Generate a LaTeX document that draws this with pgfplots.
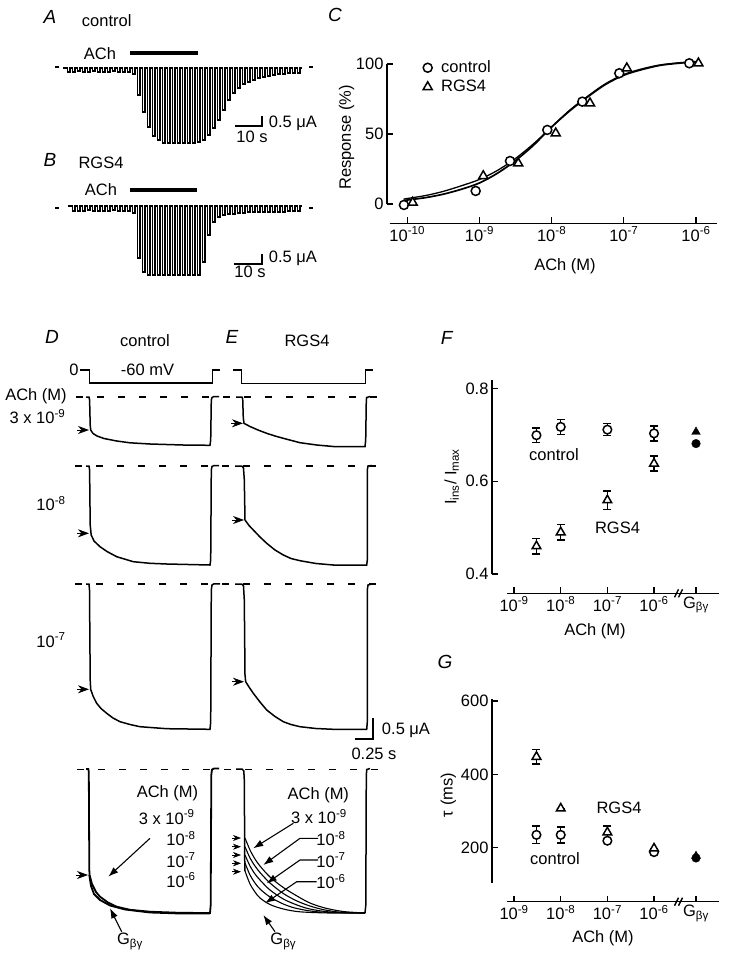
\documentclass[border=0pt]{standalone}
\usepackage{pgfplots}
\pgfplotsset{compat=1.18}
\usepackage{fontspec}
\setmainfont{Liberation Sans}
\usetikzlibrary{arrows.meta}
\newcommand{\fs}{\fontsize{16.5}{19}\selectfont}
\begin{document}
\begin{tikzpicture}[
  lab/.style={font=\fs, inner sep=0pt},
  pl/.style={font=\fontsize{19}{22}\selectfont\itshape, inner sep=0pt},
  hd/.style={-{Stealth[length=11pt,width=8pt,inset=3.5pt]}, line width=0.8pt},
  hds/.style={-{Stealth[length=8pt,width=6pt,inset=2.5pt]}, line width=0.7pt},
  ar/.style={-{Latex[length=10pt,width=7pt]}, line width=1.1pt},
]
\begin{axis}[name=canvas, at={(0,0)}, anchor=south west, x=1pt, y=1pt,
  xmin=0, xmax=730, ymin=0, ymax=960, y dir=reverse, hide axis, clip=false, scale only axis]
\coordinate (bbA) at (axis cs:0,960);
\coordinate (bbB) at (axis cs:730,0);
\coordinate (Corig) at (axis cs:387,223.3);
\coordinate (Forig) at (axis cs:492,593.3);
\coordinate (Gorig) at (axis cs:492,901.7);
% ---------- panel A ----------
\node[pl] at (axis cs:50,17) {A};
\node[lab] at (axis cs:106.7,20.7) {control};
\node[lab] at (axis cs:100,53.3) {ACh};
\addplot[line width=3.2pt] coordinates {(130,53)(198,53)};
\addplot[line width=1.5pt] coordinates {(55,67)(59,67)};
\addplot[line width=1.5pt] coordinates {(309,67)(313,67)};
\addplot[const plot, line width=1.2pt] coordinates {(63,68)(65,68)(67.5,72)(70,68)(72.5,72)(75,68)(77.5,71)(80,68)(82.5,72)(85,68)(87.5,72)(90,68)(92.5,71)(95,68)(97.5,72)(100,68)(102.5,72)(105,68)(107.5,72)(110,68)(112.5,71)(115,68)(117.5,72)(120,68)(122.5,72)(125,68)(127.5,72)(130,68)(132.5,74)(135,68)(137.5,95)(140,68)(142.5,112)(145,68)(147.5,127)(150,68)(152.5,136)(155,68)(157.5,140)(160,68)(162.5,143)(165,68)(167.5,143)(170,68)(172.5,143)(175,68)(177.5,143)(180,68)(182.5,143)(185,68)(187.5,143)(190,68)(192.5,143)(195,68)(197.5,142)(200,68)(202.5,140)(205,68)(207.5,135)(210,68)(212.5,128)(215,68)(217.5,120)(220,68)(222.5,110)(225,68)(227.5,100)(230,68)(232.5,93)(235,68)(237.5,88)(240,68)(242.5,84)(245,68)(247.5,82)(250,68)(252.5,80)(255,68)(257.5,78)(260,68)(262.5,77)(265,68)(267.5,76)(270,68)(272.5,75)(275,68)(277.5,74)(280,68)(282.5,74)(285,68)(287.5,73)(290,68)(292.5,73)(295,68)(297.5,73)(300,68)(302,68)};
\addplot[line width=1.8pt] coordinates {(235,126)(261.7,126)(261.7,116)};
\node[lab] at (axis cs:293,123.3) {0.5 μA};
\node[lab] at (axis cs:252,136.7) {10 s};
% ---------- panel B ----------
\node[pl] at (axis cs:50,160) {B};
\node[lab] at (axis cs:101,163.3) {RGS4};
\node[lab] at (axis cs:101,190) {ACh};
\addplot[line width=3.2pt] coordinates {(130,190)(197,190)};
\addplot[line width=1.5pt] coordinates {(55,208)(59,208)};
\addplot[line width=1.5pt] coordinates {(309,208)(313,208)};
\addplot[const plot, line width=1.2pt] coordinates {(68,206)(70,206)(72.5,211)(75,206)(77.5,211)(80,206)(82.5,211)(85,206)(87.5,210)(90,206)(92.5,211)(95,206)(97.5,211)(100,206)(102.5,211)(105,206)(107.5,211)(110,206)(112.5,210)(115,206)(117.5,211)(120,206)(122.5,211)(125,206)(127.5,211)(130,206)(132.5,213)(135,206)(137.5,258)(140,206)(142.5,272)(145,206)(147.5,275)(150,206)(152.5,275)(155,206)(157.5,275)(160,206)(162.5,275)(165,206)(167.5,275)(170,206)(172.5,275)(175,206)(177.5,275)(180,206)(182.5,275)(185,206)(187.5,275)(190,206)(192.5,275)(195,206)(197.5,275)(200,206)(202.5,262)(205,206)(207.5,235)(210,206)(212.5,222)(215,206)(217.5,217)(220,206)(222.5,215)(225,206)(227.5,214)(230,206)(232.5,214)(235,206)(237.5,213)(240,206)(242.5,213)(245,206)(247.5,212)(250,206)(252.5,212)(255,206)(257.5,212)(260,206)(262.5,212)(265,206)(267.5,212)(270,206)(272.5,212)(275,206)(277.5,212)(280,206)(282.5,212)(285,206)(287.5,211)(290,206)(292.5,211)(295,206)(297.5,211)(300,206)(302,206)};
\addplot[line width=1.8pt] coordinates {(234.3,264.3)(261.7,264.3)(261.7,254)};
\node[lab] at (axis cs:293,258.3) {0.5 μA};
\node[lab] at (axis cs:250,271.7) {10 s};
% ---------- panels C, F, G labels ----------
\node[pl] at (axis cs:335,15) {C};
\node[lab, rotate=90] at (axis cs:346.7,137.5) {Response (\%)};
\node[lab] at (axis cs:565,266.7) {ACh (M)};
\node[pl] at (axis cs:446.7,338.3) {F};
\node[lab, rotate=90] at (axis cs:451.7,476.7) {I\textsubscript{ins}/ I\textsubscript{max}};
\node[lab] at (axis cs:595,631) {ACh (M)};
\node[lab] at (axis cs:554,455) {control};
\node[lab] at (axis cs:617.5,528.3) {RGS4};
\node[pl] at (axis cs:445,661.7) {G};
\node[lab, rotate=90] at (axis cs:448.3,795) {τ (ms)};
\node[lab] at (axis cs:603,938) {ACh (M)};
\node[lab] at (axis cs:619,808.3) {RGS4};
\node[lab] at (axis cs:555,858.3) {control};
% ---------- panels D, E ----------
\node[pl] at (axis cs:52,337) {D};
\node[lab] at (axis cs:145,341) {control};
\node[pl] at (axis cs:232,337) {E};
\node[lab] at (axis cs:307,341) {RGS4};
\node[lab] at (axis cs:74,370) {0};
\node[lab] at (axis cs:147.5,370) {-60 mV};
\addplot[line width=1.5pt] coordinates {(80,370)(89.3,370)(89.3,383)(212.7,383)(212.7,370)(220,370)};
\addplot[line width=1.5pt] coordinates {(233.3,370)(241.7,370)(241.7,383.3)(365.7,383.3)(365.7,370)(373.3,370)};
\node[lab] at (axis cs:36,396.7) {ACh (M)};
\node[lab] at (axis cs:37.5,416.7) {3 x 10\textsuperscript{-9}};
\node[lab] at (axis cs:51,503.3) {10\textsuperscript{-8}};
\node[lab] at (axis cs:51,640) {10\textsuperscript{-7}};
\addplot[line width=1.6pt, dash pattern=on 7pt off 14pt] coordinates {(76,396.7)(387,396.7)};
\addplot[line width=1.6pt, dash pattern=on 7pt off 14pt] coordinates {(75,466)(387,466)};
\addplot[line width=1.6pt, dash pattern=on 7pt off 14pt] coordinates {(75,584)(387,584)};
\addplot[line width=1.6pt, dash pattern=on 7pt off 14pt] coordinates {(77,769.3)(387,769.3)};
% row 1
\addplot[line width=1.5pt] coordinates {(86,397)(89,397)(89.6,400)(90.2,425)(90.7,430)(93,433.5)(97,436)(104,438.5)(116.7,441)(130,442.8)(150,444)(183,445)(210,445.3)(210.7,440)(211.3,400)(212,397.5)(214,396.5)(219,396.5)};
\addplot[line width=1.5pt] coordinates {(236,397)(242,397)(242.7,399)(243.3,418)(244,423.3)(250,426.5)(258,430)(266.7,433.3)(275,436)(283.3,438.3)(300,442.7)(316.7,445)(333.3,446.5)(365,446.7)(365.7,440)(366.3,400)(366.7,397.5)(370,396.5)};
% row 2
\addplot[line width=1.5pt] coordinates {(86,466)(89,466)(89.6,470)(90.2,525)(91.2,535)(94,541)(100,546.7)(107,551.5)(116.7,556.7)(133.3,561.7)(150,563.3)(166.7,564)(210,565)(210.7,560)(211.3,470)(212,466.5)(214,465.5)(219,465.5)};
\addplot[line width=1.5pt] coordinates {(235,466)(241.7,466)(243.5,468)(244.3,480)(245,520)(249,525.5)(253.3,530)(260,537)(266.7,543.3)(275,550)(283.3,555)(291,558.5)(300,560.7)(316,563.5)(333.3,565)(366.7,565)(367.3,560)(367.3,470)(368,466)(372,465.5)};
% row 3
\addplot[line width=1.5pt] coordinates {(86,584)(89,584)(89.5,590)(90.2,680)(90.7,689.3)(93,696)(96.7,703.3)(101,708.5)(106.7,713.3)(113,718)(120,721.7)(130,724.5)(140,726.7)(166.7,728.7)(210,729.3)(210.7,722)(211.3,590)(212,585)(214,583.8)(220,583.8)};
\addplot[line width=1.5pt] coordinates {(235,584)(241.7,584)(243.5,586)(244.3,600)(245,675)(245.7,681.7)(249,687)(253.3,693.3)(260,702)(266.7,710)(275,716.5)(283.3,721.7)(291,724.5)(300,726.7)(316,728.5)(333.3,729.3)(366.7,729.3)(367.3,722)(367.3,590)(368,585)(372,584)};
% row 4 D
\addplot[line width=1.8pt] coordinates {(86,769)(88.3,769)(88.8,772)(89.3,870)(89.6,875)(92,884)(96,892)(100,896.7)(108,902.5)(116.7,906.7)(130,909.8)(150,911.7)(180,912.8)(210,913)(210.7,905)(211.3,775)(212,769.5)(214,768.5)(219,768.5)};
\addplot[line width=1.8pt] coordinates {(89.3,875)(91,886)(94,894)(100,900)(110,905.5)(125,909.5)(150,912.5)(180,913.5)(210,913.5)};
% row 4 E
\addplot[line width=1.5pt] coordinates {(236,769)(242,769)(243.8,771)(244.3,780)(244.8,871)};
\addplot[line width=1.5pt] coordinates {(365,913)(365.8,905)(366.3,775)(366.8,769.5)(370,768.5)};
\addplot[line width=1.1pt, smooth] coordinates {(245,838)(250,850)(255,859)(260,866)(270,877)(283.3,887.5)(297,896)(310,903)(325,908)(343.3,911.5)(365,913)};
\addplot[line width=1.1pt, smooth] coordinates {(245,846.7)(250,858)(255,866)(260,872.5)(270,883)(283.3,893.5)(297,901)(310,906)(325,910)(343,912.5)(365,913)};
\addplot[line width=1.1pt, smooth] coordinates {(245,855)(250,866)(255,874)(260,880)(270,890)(283.3,899)(297,905)(310,909)(330,912)(365,913)};
\addplot[line width=1.1pt, smooth] coordinates {(245,863)(250,875)(255,883)(260,889)(270,897)(283.3,904)(297,908.5)(320,912)(365,913)};
\addplot[line width=1.1pt, smooth] coordinates {(245,871)(250,884)(255,892)(260,898)(270,904.5)(283.3,909)(300,911.8)(330,913)(365,913)};
% arrowheads
\draw[hd] (axis cs:77,430) -- (axis cs:89,430);
\draw[hd] (axis cs:231,423.3) -- (axis cs:243,423.3);
\draw[hd] (axis cs:77,533.3) -- (axis cs:89,533.3);
\draw[hd] (axis cs:232,520) -- (axis cs:244,520);
\draw[hd] (axis cs:77,689.3) -- (axis cs:89,689.3);
\draw[hd] (axis cs:232,681.7) -- (axis cs:244,681.7);
\draw[hd] (axis cs:76,875) -- (axis cs:88,875);
\draw[hds] (axis cs:232,838) -- (axis cs:241,838);
\draw[hds] (axis cs:232,846.7) -- (axis cs:241,846.7);
\draw[hds] (axis cs:232,855) -- (axis cs:241,855);
\draw[hds] (axis cs:232,863.3) -- (axis cs:241,863.3);
\draw[hds] (axis cs:232,871.7) -- (axis cs:241,871.7);
% scale bar D/E
\addplot[line width=1.8pt] coordinates {(355,739)(373.3,739)(373.3,718.3)};
\node[lab] at (axis cs:406,730) {0.5 μA};
\node[lab] at (axis cs:374,754) {0.25 s};
% row 4 labels & arrows
\node[lab] at (axis cs:167.5,793.3) {ACh (M)};
\node[lab] at (axis cs:166.7,817) {3 x 10\textsuperscript{-9}};
\node[lab] at (axis cs:181,838.3) {10\textsuperscript{-8}};
\node[lab] at (axis cs:181,860) {10\textsuperscript{-7}};
\node[lab] at (axis cs:181,880) {10\textsuperscript{-6}};
\draw[ar] (axis cs:150,838.3) -- (axis cs:108.3,876.7);
\draw[ar] (axis cs:121.7,931.7) -- (axis cs:110,908.3);
\node[lab] at (axis cs:130,941.7) {G\textsubscript{βγ}};
\node[lab] at (axis cs:318.3,795) {ACh (M)};
\node[lab] at (axis cs:319,816.7) {3 x 10\textsuperscript{-9}};
\node[lab] at (axis cs:331,838.3) {10\textsuperscript{-8}};
\node[lab] at (axis cs:331,860) {10\textsuperscript{-7}};
\node[lab] at (axis cs:331,881.7) {10\textsuperscript{-6}};
\draw[ar] (axis cs:293.3,823.3) -- (axis cs:253.3,848.3);
\draw[ar] (axis cs:318,838.3) -- (axis cs:300,838.3) -- (axis cs:263.3,865);
\draw[ar] (axis cs:318,860) -- (axis cs:300,860) -- (axis cs:266.7,883.3);
\draw[ar] (axis cs:316.7,881.7) -- (axis cs:296.7,881.7) -- (axis cs:265,903.3);
\draw[ar] (axis cs:275,931.7) -- (axis cs:263.3,915);
\node[lab] at (axis cs:283.3,941.7) {G\textsubscript{βγ}};
\end{axis}

% ---------- panel C ----------
\begin{axis}[at={(Corig)}, anchor=south west, scale only axis, width=330pt, height=159.3pt,
  xmode=log, xmin=5.24e-11, xmax=1.954e-6, ymin=-13.8, ymax=100,
  axis lines*=left, axis line style={draw=none}, tick align=inside, major tick length=6pt,
  tick style={line width=1.3pt, black}, xminorticks=false,
  xtick={1e-10,1e-9,1e-8,1e-7,1e-6},
  xticklabels={10\textsuperscript{-10},10\textsuperscript{-9},10\textsuperscript{-8},10\textsuperscript{-7},10\textsuperscript{-6}},
  ytick={0,50,100}, yticklabels={0,50,100},
  tick label style={font=\fs}, clip=false,
  legend style={draw=none, fill=none, at={(0.1,1.045)}, anchor=north west, font=\fs, row sep=2pt,
    /tikz/every odd column/.append style={column sep=7pt}},
  legend cell align=left]
\draw[line width=1.5pt] (rel axis cs:0,0.1213) -- (rel axis cs:0,1);
\draw[line width=1.5pt] (rel axis cs:0.008,0) -- (rel axis cs:1,0);
\addplot[line width=1.7pt, smooth, forget plot] coordinates {(8.9e-11,2.5)(1.78e-10,4.5)(3.16e-10,7)(5.62e-10,10.5)(1e-9,15)(1.78e-9,22)(3.16e-9,31)(5.62e-9,42)(1e-8,55)(1.78e-8,66.5)(3.16e-8,76.5)(5.62e-8,85.5)(1e-7,92)(1.78e-7,96)(3.16e-7,99)(5.62e-7,100.5)(1e-6,101.5)};
\addplot[line width=1.3pt, smooth, forget plot] coordinates {(8.9e-11,3.5)(1.78e-10,6)(3.16e-10,9)(5.62e-10,13)(1e-9,17.5)(1.78e-9,24)(3.16e-9,32.5)(5.62e-9,43)(1e-8,55)(1.78e-8,67)(3.16e-8,77)(5.62e-8,86)(1e-7,92.5)(1.78e-7,96.5)(3.16e-7,99.3)(5.62e-7,100.8)(1e-6,101.8)};
\addplot[only marks, mark=*, mark size=4.5pt, mark options={fill=white, draw=black, line width=1.5pt}] coordinates {(8.99e-11,-0.7)(8.87e-10,9.3)(2.65e-9,30.7)(8.71e-9,52.9)(2.66e-8,73.1)(8.65e-8,93.4)(8.07e-7,100.5)};
\addlegendentry{control}
\addplot[only marks, mark=triangle*, mark size=5.2pt, mark options={fill=white, draw=black, line width=1.5pt}] coordinates {(1.19e-10,1)(1.13e-9,20)(3.45e-9,29)(1.14e-8,50.5)(3.40e-8,72)(1.10e-7,97)(1.08e-6,100.5)};
\addlegendentry{RGS4}
\end{axis}

% ---------- panel F ----------
\begin{axis}[at={(Forig)}, anchor=south west, scale only axis, width=227pt, height=213.3pt,
  xmin=-9.473, xmax=-4.607, ymin=0.3585, ymax=0.818,
  axis lines*=left, axis line style={draw=none}, tick align=inside, major tick length=6pt,
  tick style={line width=1.3pt, black},
  xtick={-9,-8,-7,-6,-5.1},
  xticklabels={10\textsuperscript{-9},10\textsuperscript{-8},10\textsuperscript{-7},10\textsuperscript{-6},G\textsubscript{βγ}},
  ytick={0.4,0.6,0.8}, yticklabels={0.4,0.6,0.8},
  tick label style={font=\fs}, clip=false]
\draw[line width=1.5pt] (axis cs:-9.473,0.4) -- (axis cs:-9.473,0.818);
\draw[line width=1.5pt] (axis cs:-9.15,0.3585) -- (axis cs:-4.607,0.3585);
\fill[white] ([xshift=-5pt,yshift=-4pt]axis cs:-5.443,0.3585) -- ++(3pt,0) -- ++(4pt,8pt) -- ++(-3pt,0) -- cycle;
\draw[line width=1.4pt] ([xshift=-5.5pt,yshift=-4pt]axis cs:-5.443,0.3585) -- ++(4pt,8pt);
\draw[line width=1.4pt] ([xshift=-1.5pt,yshift=-4pt]axis cs:-5.443,0.3585) -- ++(4pt,8pt);
\addplot[only marks, mark=*, mark size=4.3pt, mark options={fill=white, draw=black, line width=1.5pt},
  error bars/.cd, y dir=both, y explicit, error mark=-, error bar style={line width=1.5pt},
  error mark options={line width=1.5pt, mark size=4pt, rotate=90}]
  coordinates {(-8.52,0.699) +- (0,0.016) (-8,0.717) +- (0,0.016) (-7,0.711) +- (0,0.013) (-6,0.703) +- (0,0.016)};
\addplot[only marks, mark=triangle*, mark size=5pt, mark options={fill=white, draw=black, line width=1.5pt},
  error bars/.cd, y dir=both, y explicit, error mark=-, error bar style={line width=1.5pt},
  error mark options={line width=1.5pt, mark size=4pt, rotate=90}]
  coordinates {(-8.52,0.460) +- (0,0.017) (-8,0.490) +- (0,0.017) (-7,0.559) +- (0,0.02) (-6,0.638) +- (0,0.016)};
\addplot[only marks, mark=*, mark size=4.3pt, mark options={fill=black, draw=black}] coordinates {(-5.1,0.681)};
\addplot[only marks, mark=triangle*, mark size=5pt, mark options={fill=black, draw=black}] coordinates {(-5.1,0.706)};
\end{axis}

% ---------- panel G ----------
\begin{axis}[at={(Gorig)}, anchor=south west, scale only axis, width=227pt, height=202.7pt,
  xmin=-9.473, xmax=-4.607, ymin=52.8, ymax=605.5,
  axis lines*=left, axis line style={draw=none}, tick align=inside, major tick length=6pt,
  tick style={line width=1.3pt, black},
  xtick={-9,-8,-7,-6,-5.1},
  xticklabels={10\textsuperscript{-9},10\textsuperscript{-8},10\textsuperscript{-7},10\textsuperscript{-6},G\textsubscript{βγ}},
  ytick={200,400,600}, yticklabels={200,400,600},
  tick label style={font=\fs}, clip=false]
\draw[line width=1.5pt] (axis cs:-9.473,103) -- (axis cs:-9.473,605.5);
\draw[line width=1.5pt] (axis cs:-9.15,52.8) -- (axis cs:-4.607,52.8);
\fill[white] ([xshift=-5pt,yshift=-4pt]axis cs:-5.443,52.8) -- ++(3pt,0) -- ++(4pt,8pt) -- ++(-3pt,0) -- cycle;
\draw[line width=1.4pt] ([xshift=-5.5pt,yshift=-4pt]axis cs:-5.443,52.8) -- ++(4pt,8pt);
\draw[line width=1.4pt] ([xshift=-1.5pt,yshift=-4pt]axis cs:-5.443,52.8) -- ++(4pt,8pt);
\addplot[only marks, mark=*, mark size=4.3pt, mark options={fill=white, draw=black, line width=1.5pt},
  error bars/.cd, y dir=both, y explicit, error mark=-, error bar style={line width=1.5pt},
  error mark options={line width=1.5pt, mark size=4pt, rotate=90}]
  coordinates {(-8.52,235) +- (0,24) (-8,235) +- (0,22) (-7,219) +- (0,0) (-6,188) +- (0,0)};
\addplot[only marks, mark=triangle*, mark size=5pt, mark options={fill=white, draw=black, line width=1.5pt},
  error bars/.cd, y dir=both, y explicit, error mark=-, error bar style={line width=1.5pt},
  error mark options={line width=1.5pt, mark size=4pt, rotate=90}]
  coordinates {(-8.52,448) +- (0,20) (-8,307) +- (0,0) (-7,242) +- (0,17) (-6,198) +- (0,0)};
\addplot[only marks, mark=*, mark size=4.3pt, mark options={fill=black, draw=black}] coordinates {(-5.1,172)};
\addplot[only marks, mark=triangle*, mark size=5pt, mark options={fill=black, draw=black}] coordinates {(-5.1,177)};
\end{axis}
\pgfresetboundingbox
\path[use as bounding box] (bbA) rectangle (bbB);
\end{tikzpicture}
\end{document}
